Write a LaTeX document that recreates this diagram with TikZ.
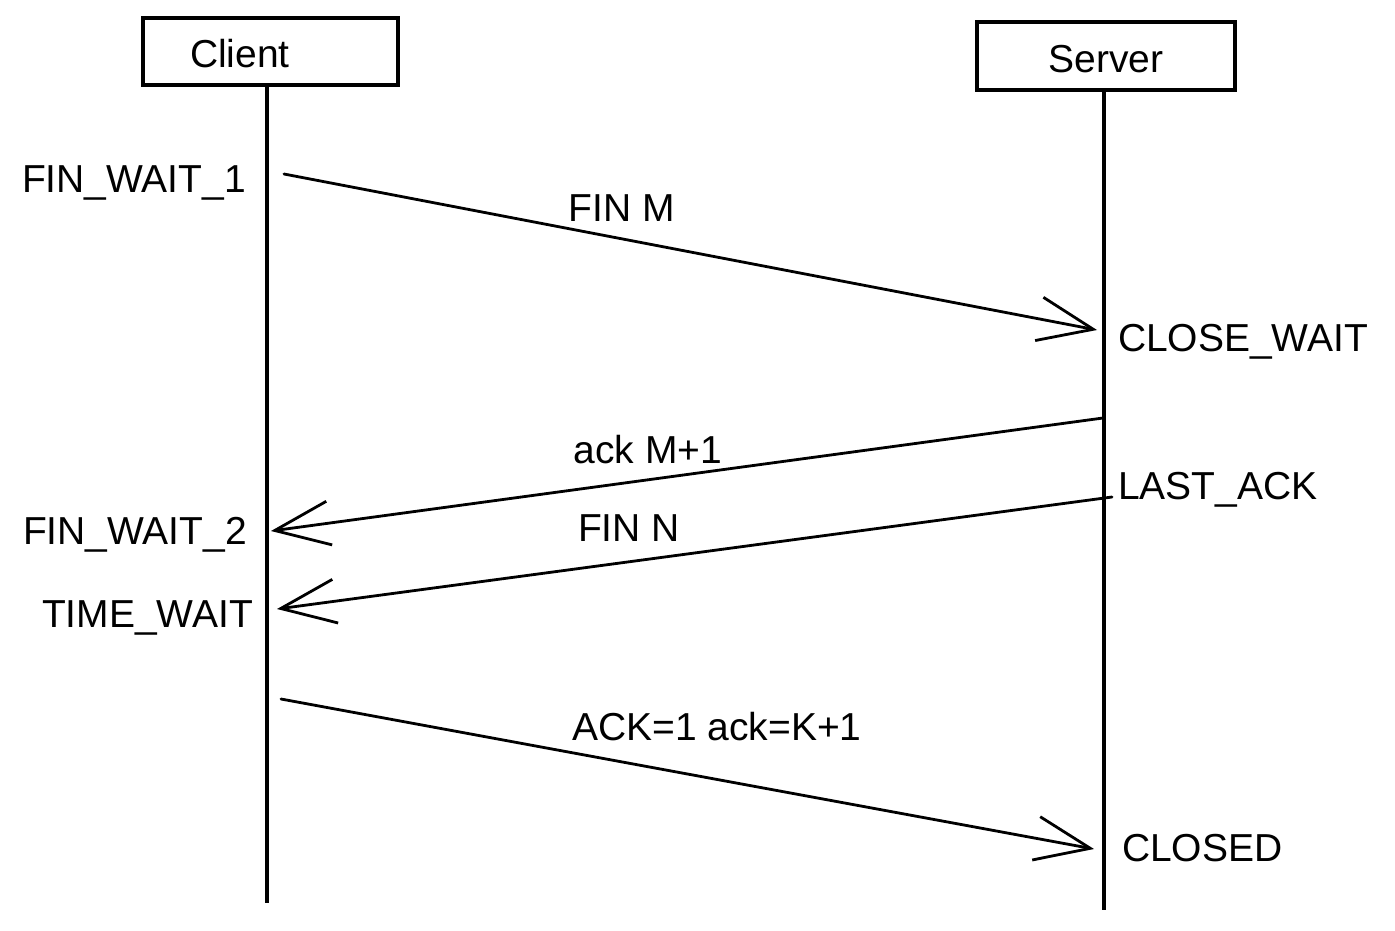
\documentclass[tikz,border=0pt]{standalone}
\usepackage{fontspec}
\setmainfont{Liberation Sans}
\usetikzlibrary{arrows.meta}
\begin{document}
\begin{tikzpicture}[x=1pt,y=-1pt,
  every node/.style={font=\fontsize{39}{45}\selectfont, inner sep=0pt, outer sep=0pt},
  actorbox/.style={draw, line width=3.2pt, rectangle},
  lifeline/.style={line width=3.2pt},
  msg/.style={line width=2.8pt, line cap=round, -{Straight Barb[length=55pt,width=44pt,line width=2.8pt]}},
  lstate/.style={anchor=base east},
  rstate/.style={anchor=base west},
  mlabel/.style={anchor=base}]
\useasboundingbox (0,0) rectangle (1395,930);
% actors
\node[actorbox, minimum width=255pt, minimum height=67pt] (cbox) at (270.5,51.5) {};
\node[anchor=base] (ctext) at (240,67) {Client};
\node[actorbox, minimum width=258pt, minimum height=68pt] (sbox) at (1106,56) {};
\node[anchor=base] (stext) at (1106,72) {Server};
% lifelines
\coordinate (cbot) at (267,903);
\coordinate (sbot) at (1104,910);
\draw[lifeline] (cbot |- cbox.south) -- (cbot);
\draw[lifeline] (sbot |- sbox.south) -- (sbot);
% states
\node[lstate] (fw1) at (246,192) {FIN\_WAIT\_1};
\node[rstate] (cw) at (1118,351) {CLOSE\_WAIT};
\node[rstate] (la) at (1118,499) {LAST\_ACK};
\node[lstate] (fw2) at (247,544) {FIN\_WAIT\_2};
\node[lstate] (tw) at (253,627) {TIME\_WAIT};
\node[rstate] (cl) at (1122,861) {CLOSED};
% message endpoints
\coordinate (a1s) at (284,174);
\coordinate (a1e) at (1097,330);
\coordinate (a2s) at (1103,418);
\coordinate (a2e) at (271,531);
\coordinate (a3s) at (1112,497);
\coordinate (a3e) at (277,609);
\coordinate (a4s) at (281,699);
\coordinate (a4e) at (1094,849);
\draw[msg] (a1s) -- (a1e);
\draw[msg] (a2s) -- (a2e);
\draw[msg] (a3s) -- (a3e);
\draw[msg] (a4s) -- (a4e);
% message labels
\node[mlabel] (m1) at (622,221) {FIN M};
\node[mlabel] (m2) at (648,463) {ack M+1};
\node[mlabel] (m3) at (629,541) {FIN N};
\node[mlabel] (m4) at (717,740) {ACK=1 ack=K+1};
\end{tikzpicture}
\end{document}
